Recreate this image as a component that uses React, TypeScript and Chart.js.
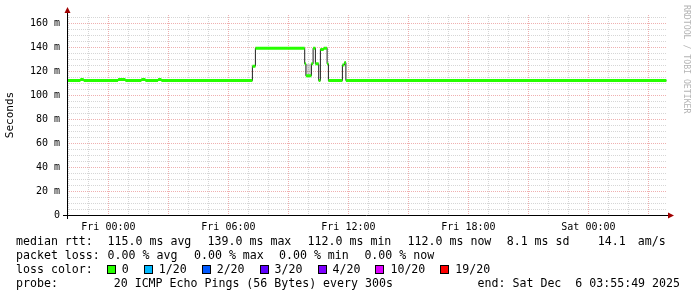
import React, { useEffect, useRef } from "react";
import { Chart, registerables } from "chart.js";

Chart.register(...registerables);

// ---- time axis (hours relative to Fri 00:00) ----
const START_H = -2.0697; // Thu 21:55:49
const END_H = 27.9303; // Sat 03:55:49
const DATA_END_H = 27.9;

// ---- median RTT (ms), step change points ----
const medianTimes = [
  -2.07, -1.4, -1.235, 0.485, 0.85, 1.65, 1.85, 2.485, 2.65, 7.2, 7.35, 9.815,
  9.875, 10.15, 10.235, 10.35, 10.515, 10.6, 10.765, 10.935, 11.0, 11.7, 11.8,
  11.875,
];
const medianValues = [
  112, 113, 112, 113, 112, 113, 112, 113, 112, 124, 139, 126, 116, 126, 139,
  126, 112, 138, 139, 126, 112, 125, 127, 112,
];

// ---- smoke (ping spread) ----
const smokeTimes = [9.875, 10.15];
const smokeLow = [116, 116];
const smokeHigh = [126, 126];

// ---- tick labels ----
const xTickHours = [0, 6, 12, 18, 24];
const xTickLabels = ["Fri 00:00", "Fri 06:00", "Fri 12:00", "Fri 18:00", "Sat 00:00"];
const yLabelValues = [0, 20, 40, 60, 80, 100, 120, 140, 160];
const yLabelTexts = ["0", "20 m", "40 m", "60 m", "80 m", "100 m", "120 m", "140 m", "160 m"];

// ---- legend ----
const statsItems = [
  "median rtt:",
  "115.0 ms avg",
  "139.0 ms max",
  "112.0 ms min",
  "112.0 ms now",
  "8.1 ms sd",
  "14.1",
  "am/s",
];
const lossItems = ["packet loss:", "0.00 % avg", "0.00 % max", "0.00 % min", "0.00 % now"];
const lossLabels = ["0", "1/20", "2/20", "3/20", "4/20", "10/20", "19/20"];
const lossColors = ["#26ff00", "#00b8ff", "#0059ff", "#5e00ff", "#7e00ff", "#dd00ff", "#ff0000"];
const lossColorTitle = "loss color:  ";
const probeLine = "probe:        20 ICMP Echo Pings (56 Bytes) every 300s";
const endLine = "end: Sat Dec  6 03:55:49 2025";
const watermark = "RRDTOOL / TOBI OETIKER";

// layout (pixel positions of legend items)
const STATS_X = [16, 107.6, 207.6, 307.6, 407.6, 506.7, 597.8, 637.8];
const LOSS_X = [16, 107.6, 194, 279, 364.4];

const MONO = "'DejaVu Sans Mono', monospace";

export default function App() {
  const canvasRef = useRef<HTMLCanvasElement | null>(null);

  useEffect(() => {
    const canvas = canvasRef.current;
    if (!canvas) return;

    const n = medianTimes.length;
    const darkData: { x: number; y: number | null }[] = [];
    const greenData: { x: number; y: number | null }[] = [];
    for (let i = 0; i < n; i++) {
      const t0 = medianTimes[i];
      const t1 = i + 1 < n ? medianTimes[i + 1] : DATA_END_H;
      const v = medianValues[i];
      darkData.push({ x: t0, y: v });
      greenData.push({ x: t0, y: v }, { x: t1, y: v }, { x: t1, y: null });
    }
    darkData.push({ x: DATA_END_H, y: medianValues[n - 1] });

    const lowData = smokeTimes.map((t, i) => ({ x: t, y: smokeLow[i] }));
    const highData = smokeTimes.map((t, i) => ({ x: t, y: smokeHigh[i] }));

    const axisPlugin = {
      id: "rrdAxes",
      afterDraw(chart: any) {
        const { ctx, chartArea } = chart;
        const x0 = chartArea.left;
        const y0 = chartArea.bottom;
        ctx.save();
        ctx.strokeStyle = "#000000";
        ctx.lineWidth = 1;
        ctx.beginPath();
        ctx.moveTo(x0 - 4, y0 + 0.5);
        ctx.lineTo(chartArea.right + 3, y0 + 0.5);
        ctx.moveTo(x0 + 0.5, y0 + 4);
        ctx.lineTo(x0 + 0.5, chartArea.top - 4);
        ctx.stroke();
        ctx.fillStyle = "#a00000";
        ctx.beginPath();
        ctx.moveTo(chartArea.right + 1, y0 - 2.5);
        ctx.lineTo(chartArea.right + 7, y0 + 0.5);
        ctx.lineTo(chartArea.right + 1, y0 + 3.5);
        ctx.closePath();
        ctx.fill();
        ctx.beginPath();
        ctx.moveTo(x0 - 2.5, chartArea.top - 2);
        ctx.lineTo(x0 + 0.5, chartArea.top - 8);
        ctx.lineTo(x0 + 3.5, chartArea.top - 2);
        ctx.closePath();
        ctx.fill();
        ctx.restore();
      },
    };

    const gridColor = (v: number, majorEvery: number) =>
      Math.abs(v % majorEvery) < 1e-6 ? "#efb0b0" : "#d6d6d6";

    const chart = new Chart(canvas, {
      type: "line",
      data: {
        datasets: [
          {
            data: greenData,
            borderColor: "#26ff00",
            borderWidth: 3,
            borderCapStyle: "butt",
            spanGaps: false,
            pointRadius: 0,
            order: 0,
          } as any,
          {
            data: darkData,
            borderColor: "#202020",
            borderWidth: 1,
            stepped: true,
            pointRadius: 0,
            order: 1,
          } as any,
          {
            data: lowData,
            borderWidth: 0,
            borderColor: "rgba(0,0,0,0)",
            pointRadius: 0,
            order: 2,
          } as any,
          {
            data: highData,
            borderWidth: 0,
            borderColor: "rgba(0,0,0,0)",
            backgroundColor: "rgba(0,0,0,0.16)",
            fill: "-1",
            pointRadius: 0,
            order: 3,
          } as any,
        ],
      },
      options: {
        responsive: false,
        animation: false,
        events: [],
        layout: { padding: { top: 15, right: 30, left: 0, bottom: 0 } },
        plugins: { legend: { display: false }, tooltip: { enabled: false } },
        elements: { point: { radius: 0 }, line: { tension: 0 } },
        scales: {
          x: {
            type: "linear",
            min: START_H,
            max: END_H,
            afterBuildTicks: (s: any) => {
              const ticks = [];
              for (let h = -2; h <= 27; h++) ticks.push({ value: h });
              s.ticks = ticks;
            },
            afterFit: (s: any) => {
              s.height = 82;
            },
            grid: {
              drawTicks: false,
              lineWidth: 1,
              color: (c: any) => gridColor(c.tick ? c.tick.value : 1, 3),
            },
            border: { display: false, dash: [1, 1] },
            ticks: {
              autoSkip: false,
              maxRotation: 0,
              padding: 6,
              color: "#000000",
              font: { family: MONO, size: 10 },
              callback: (v: any) => {
                const i = xTickHours.indexOf(Number(v));
                return i >= 0 ? xTickLabels[i] : "";
              },
            },
          },
          y: {
            type: "linear",
            min: 0,
            max: 200 / 1.2,
            afterBuildTicks: (s: any) => {
              const ticks = [];
              for (let v = 0; v <= 165; v += 5) ticks.push({ value: v });
              s.ticks = ticks;
            },
            afterFit: (s: any) => {
              s.width = 67;
            },
            grid: {
              drawTicks: false,
              lineWidth: 1,
              color: (c: any) => gridColor(c.tick ? c.tick.value : 1, 20),
            },
            border: { display: false, dash: [1, 1] },
            title: {
              display: true,
              text: "Seconds",
              color: "#000000",
              font: { family: MONO, size: 11 },
              padding: { top: 4, bottom: 0 },
            },
            ticks: {
              autoSkip: false,
              padding: 7,
              color: "#000000",
              font: { family: MONO, size: 10 },
              callback: (v: any) => {
                const i = yLabelValues.indexOf(Number(v));
                return i >= 0 ? yLabelTexts[i] : "";
              },
            },
          },
        },
      } as any,
      plugins: [axisPlugin],
    });

    return () => chart.destroy();
  }, []);

  const textStyle: React.CSSProperties = {
    position: "absolute",
    left: 16,
    fontFamily: MONO,
    fontSize: "11.6px",
    lineHeight: "14px",
    whiteSpace: "pre",
    color: "#000000",
  };

  return (
    <div
      style={{
        position: "absolute",
        left: 0,
        top: 0,
        width: 697,
        height: 297,
        background: "#ffffff",
        overflow: "hidden",
      }}
    >
      <canvas ref={canvasRef} width={697} height={297} style={{ display: "block" }} />
      <div
        style={{
          position: "absolute",
          left: 682,
          top: 5,
          writingMode: "vertical-rl",
          fontFamily: MONO,
          fontSize: "8.2px",
          lineHeight: "10px",
          color: "#b4b4b4",
          whiteSpace: "pre",
        }}
      >
        {watermark}
      </div>
      {statsItems.map((s, i) => (
        <div key={"s" + i} style={{ ...textStyle, left: STATS_X[i], top: 234 }}>
          {s}
        </div>
      ))}
      {lossItems.map((s, i) => (
        <div key={"l" + i} style={{ ...textStyle, left: LOSS_X[i], top: 248 }}>
          {s}
        </div>
      ))}
      <div style={{ ...textStyle, top: 262, display: "flex", alignItems: "center" }}>
        <span>{lossColorTitle}</span>
        {lossLabels.map((lab, i) => (
          <span key={lab} style={{ display: "inline-flex", alignItems: "center", marginRight: 15 }}>
            <span
              style={{
                display: "inline-block",
                width: 7,
                height: 7,
                border: "1px solid #000",
                background: lossColors[i],
                marginRight: 6,
              }}
            />
            <span>{lab}</span>
          </span>
        ))}
      </div>
      <div style={{ ...textStyle, top: 276 }}>{probeLine}</div>
      <div style={{ ...textStyle, left: "auto", right: 17, top: 276 }}>{endLine}</div>
    </div>
  );
}
